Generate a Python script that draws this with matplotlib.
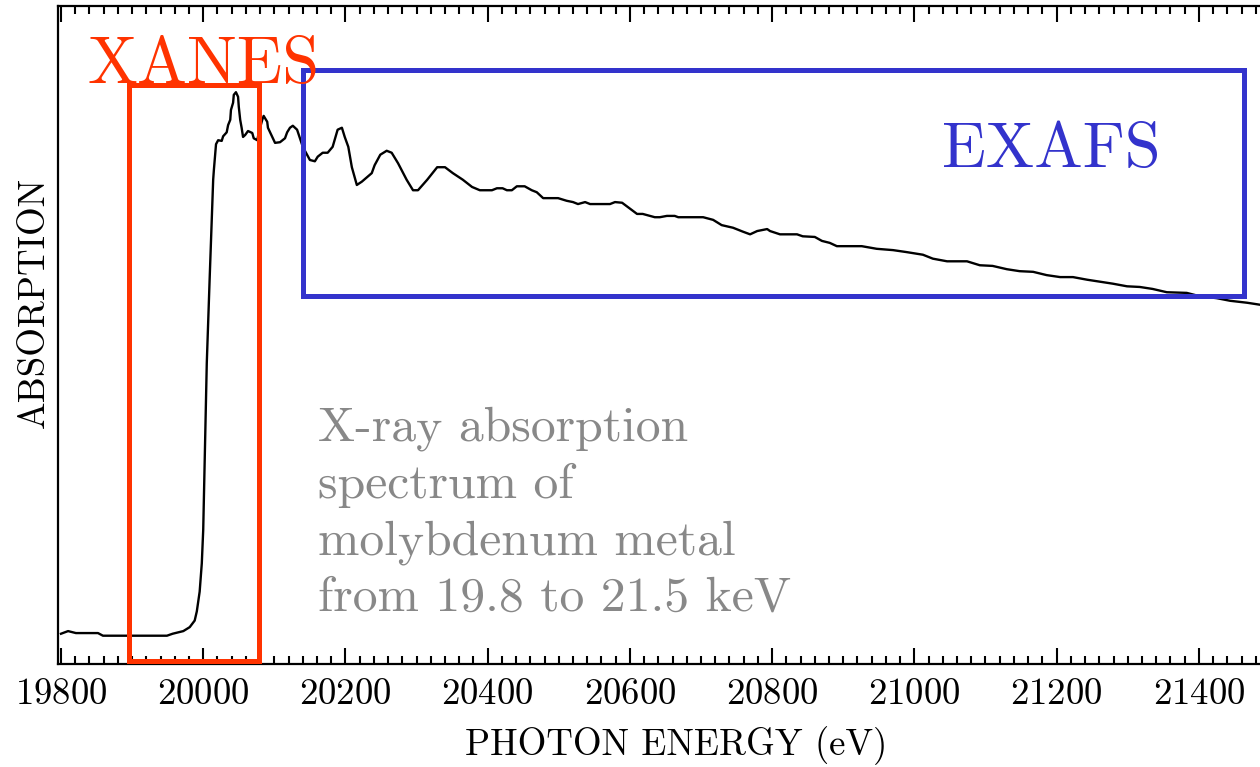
import matplotlib
matplotlib.use("Agg")
import matplotlib.pyplot as plt
from matplotlib.patches import Rectangle
from matplotlib.ticker import MultipleLocator

plt.rcParams['font.family'] = ['cmr10', 'DejaVu Serif']
plt.rcParams['axes.formatter.use_mathtext'] = True

# ---- data ----
energy_ev = [19800, 19810, 19821, 19852, 19859, 19949, 19957, 19972, 19981, 19988,
             19991, 19995, 19998, 20000, 20002, 20005, 20009, 20014, 20015, 20018,
             20021, 20026, 20028, 20033, 20035, 20038, 20039, 20042, 20043, 20046,
             20049, 20050, 20052, 20054, 20056, 20059, 20063, 20069, 20071, 20076,
             20078, 20083, 20085, 20090, 20091, 20097, 20101, 20108, 20115, 20118,
             20122, 20126, 20132, 20136, 20140, 20146, 20150, 20157, 20161, 20168,
             20175, 20182, 20189, 20195, 20199, 20204, 20209, 20216, 20223, 20237,
             20241, 20249, 20258, 20265, 20274, 20286, 20295, 20302, 20315, 20329,
             20340, 20351, 20365, 20378, 20389, 20406, 20413, 20421, 20427, 20434,
             20441, 20452, 20462, 20469, 20478, 20499, 20511, 20520, 20527, 20537,
             20544, 20572, 20579, 20589, 20610, 20618, 20635, 20642, 20652, 20663,
             20668, 20703, 20717, 20729, 20745, 20759, 20769, 20779, 20793, 20797,
             20811, 20835, 20843, 20860, 20870, 20881, 20891, 20909, 20926, 20947,
             20970, 20989, 21012, 21026, 21046, 21074, 21092, 21110, 21130, 21148,
             21167, 21186, 21205, 21223, 21243, 21261, 21279, 21299, 21317, 21335,
             21355, 21383, 21401, 21425, 21444, 21468, 21486]
absorption = [0.046, 0.050, 0.047, 0.047, 0.043, 0.043, 0.046, 0.050, 0.056, 0.066,
              0.080, 0.110, 0.153, 0.204, 0.305, 0.457, 0.584, 0.736, 0.751, 0.790,
              0.796, 0.795, 0.802, 0.808, 0.819, 0.827, 0.842, 0.853, 0.865, 0.869,
              0.862, 0.847, 0.827, 0.815, 0.801, 0.804, 0.810, 0.807, 0.799, 0.796,
              0.807, 0.827, 0.833, 0.824, 0.815, 0.801, 0.792, 0.793, 0.799, 0.808,
              0.815, 0.818, 0.812, 0.799, 0.786, 0.774, 0.766, 0.764, 0.771, 0.777,
              0.777, 0.786, 0.812, 0.815, 0.801, 0.786, 0.755, 0.728, 0.733, 0.746,
              0.758, 0.774, 0.780, 0.777, 0.761, 0.736, 0.720, 0.720, 0.736, 0.755,
              0.755, 0.746, 0.736, 0.725, 0.720, 0.720, 0.723, 0.723, 0.720, 0.720,
              0.726, 0.726, 0.720, 0.717, 0.708, 0.708, 0.704, 0.702, 0.699, 0.702,
              0.699, 0.699, 0.702, 0.701, 0.684, 0.684, 0.679, 0.679, 0.681, 0.681,
              0.679, 0.679, 0.675, 0.667, 0.663, 0.657, 0.653, 0.658, 0.661, 0.658,
              0.653, 0.653, 0.650, 0.649, 0.643, 0.640, 0.635, 0.635, 0.635, 0.631,
              0.629, 0.626, 0.622, 0.616, 0.612, 0.612, 0.606, 0.605, 0.600, 0.597,
              0.596, 0.591, 0.588, 0.588, 0.584, 0.581, 0.578, 0.574, 0.573, 0.570,
              0.565, 0.564, 0.559, 0.556, 0.552, 0.549, 0.546]

xanes_range = [19895, 20078]      # eV
xanes_top = 0.880
exafs_range = [20141, 21463]      # eV
exafs_span = [0.560, 0.903]

x_ticks = [19800, 20000, 20200, 20400, 20600, 20800, 21000, 21200, 21400]
note_lines = ["X-ray absorption", "spectrum of", "molybdenum metal",
              "from 19.8 to 21.5 keV"]

RED = '#FF3300'
BLUE = '#3333CC'
GRAY = '#888888'

fig = plt.figure(figsize=(12.6, 7.67), dpi=100)
ax = fig.add_axes([58 / 1260, 103 / 767, 1 - 58 / 1260, 658 / 767])

ax.plot(energy_ev, absorption, color='black', lw=1.7, zorder=3)

ax.set_xlim(19795.8, 21486)
ax.set_ylim(0, 1)

# boxes
ax.add_patch(Rectangle((xanes_range[0], 0.004), xanes_range[1] - xanes_range[0],
                       xanes_top - 0.004, fill=False, edgecolor=RED, lw=3.6,
                       clip_on=False, zorder=4))
ax.add_patch(Rectangle((exafs_range[0], exafs_span[0]), exafs_range[1] - exafs_range[0],
                       exafs_span[1] - exafs_span[0], fill=False, edgecolor=BLUE, lw=3.6,
                       clip_on=False, zorder=4))

ax.text(19837, 0.883, "XANES", color=RED, fontsize=48, ha='left', va='baseline',
        zorder=5, clip_on=False)
ax.text(21039, 0.755, "EXAFS", color=BLUE, fontsize=46.5, ha='left', va='baseline',
        zorder=5)

note_y = [0.340, 0.253, 0.167, 0.081]
for line, yv in zip(note_lines, note_y):
    ax.text(20161, yv, line, color=GRAY, fontsize=35.8, ha='left', va='baseline')

# axes styling
for side in ['left', 'top', 'bottom']:
    ax.spines[side].set_linewidth(1.6)
ax.spines['right'].set_visible(False)

ax.set_xticks(x_ticks)
ax.xaxis.set_minor_locator(MultipleLocator(20))
ax.tick_params(axis='x', which='major', direction='in', top=True, bottom=True,
               length=11.5, width=1.5, labelsize=26.5, pad=10)
ax.tick_params(axis='x', which='minor', direction='in', top=True, bottom=True,
               length=5.5, width=1.5)
ax.tick_params(axis='y', which='both', left=False, right=False, labelleft=False)

ax.set_xlabel("PHOTON ENERGY (eV)", fontsize=26.5)
ax.xaxis.set_label_coords((676 - 58) / 1202, -0.095)
ax.set_ylabel("ABSORPTION", fontsize=26.5)
ax.yaxis.set_label_coords(-0.006, 0.549)

fig.savefig("out.png", dpi=100)
